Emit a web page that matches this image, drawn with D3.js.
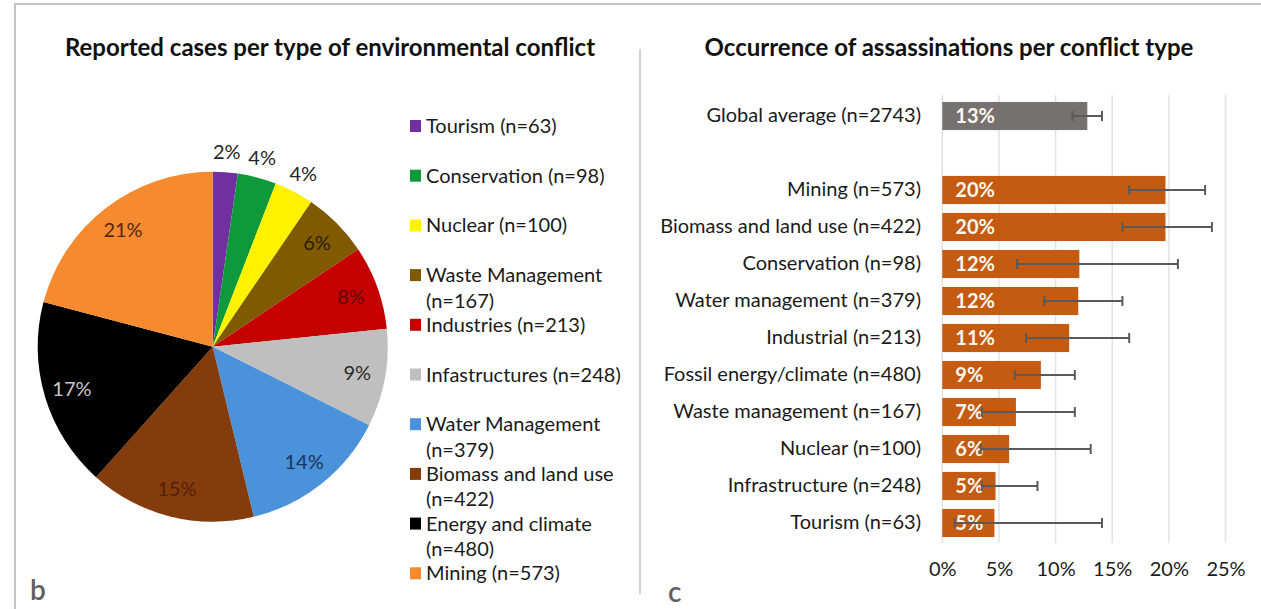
<!DOCTYPE html>
<html>
<head>
<meta charset="utf-8">
<script src="https://cdn.jsdelivr.net/npm/d3@7"></script>
<style>
  html, body { margin: 0; padding: 0; background: #fff; }
  svg { display: block; font-family: Lato, "Open Sans", sans-serif; }
</style>
</head>
<body>
<svg id="chart" width="1261" height="609"></svg>
<script>
// ---------- Data: pie (left panel) ----------
const pieCategories = ["Tourism", "Conservation", "Nuclear", "Waste Management", "Industries",
  "Infastructures", "Water Management", "Biomass and land use", "Energy and climate", "Mining"];
const pieCounts = [63, 98, 100, 167, 213, 248, 379, 422, 480, 573];
const pieColors = ["#7030A0", "#0E9A3A", "#FFF200", "#7F5A00", "#C40000",
  "#BFBFBF", "#4A92DA", "#843C0C", "#000000", "#F58A2E"];
const pieLabelColors = ["#262626", "#262626", "#262626", "#2a2000", "#5e0c06",
  "#2b2b2b", "#1c355e", "#561f06", "#c8c8c8", "#5a2610"];

// ---------- Data: bars (right panel) ----------
const barCategories = ["Global average (n=2743)", "Mining (n=573)", "Biomass and land use (n=422)",
  "Conservation (n=98)", "Water management (n=379)", "Industrial (n=213)",
  "Fossil energy/climate (n=480)", "Waste management (n=167)", "Nuclear (n=100)",
  "Infrastructure (n=248)", "Tourism (n=63)"];
const barValues = [12.8, 19.7, 19.7, 12.1, 12.0, 11.2, 8.7, 6.5, 5.9, 4.7, 4.6];
const errLow  = [11.5, 16.5, 15.9, 6.6, 9.0, 7.4, 6.4, 3.5, 3.4, 3.5, 1.1];
const errHigh = [14.1, 23.2, 23.8, 20.8, 15.9, 16.5, 11.7, 11.7, 13.1, 8.4, 14.1];
const xTicks = [0, 5, 10, 15, 20, 25];

const titles = ["Reported cases per type of environmental conflict",
  "Occurrence of assassinations per conflict type"];

const FS = 20;
const svg = d3.select("#chart");

// Frame and divider
svg.append("path").attr("d", "M15,620 L15,4 L1270,4")
  .attr("fill", "none").attr("stroke", "#c4c4c4").attr("stroke-width", 2);
svg.append("line").attr("x1", 640).attr("x2", 640).attr("y1", 49).attr("y2", 594)
  .attr("stroke", "#d2d2d2").attr("stroke-width", 2);

// Titles
svg.append("text").attr("x", 330).attr("y", 56).attr("text-anchor", "middle")
  .attr("font-size", 24).attr("font-weight", "bold").attr("fill", "#111").text(titles[0]);
svg.append("text").attr("x", 949).attr("y", 56).attr("text-anchor", "middle")
  .attr("font-size", 24).attr("font-weight", "bold").attr("fill", "#111").text(titles[1]);

// Panel letters
svg.append("text").attr("x", 30).attr("y", 600).attr("font-size", 28).attr("font-weight", 600)
  .attr("fill", "#5f5f5f").text("b");
svg.append("text").attr("x", 668).attr("y", 602).attr("font-size", 28).attr("font-weight", 600)
  .attr("fill", "#5f5f5f").text("c");

// ---------- Pie ----------
const cx = 212.7, cy = 346.7, R = 175;
const total = d3.sum(pieCounts);
const pie = d3.pie().sort(null).value(d => d)(pieCounts);
const arc = d3.arc().innerRadius(0).outerRadius(R);
const gPie = svg.append("g").attr("transform", `translate(${cx},${cy})`);
gPie.selectAll("path").data(pie).join("path")
  .attr("d", arc).attr("fill", (d, i) => pieColors[i]);

const inArc = d3.arc().innerRadius(147).outerRadius(147);
const outArc = d3.arc().innerRadius(195).outerRadius(195);
gPie.selectAll("text").data(pie).join("text")
  .attr("transform", d => {
    const frac = d.value / total;
    const c = (frac < 0.05 ? outArc : inArc).centroid(d);
    return `translate(${c[0]},${c[1]})`;
  })
  .attr("text-anchor", "middle").attr("dy", "0.35em")
  .attr("font-size", FS)
  .attr("fill", (d, i) => pieLabelColors[i])
  .text(d => Math.round(d.value / total * 100) + "%");

// Legend
const gLeg = svg.append("g");
const legX = 410, legY0 = 126, legStep = 49.7, maxW = 210;
pieCategories.forEach((name, i) => {
  const y = legY0 + i * legStep;
  gLeg.append("rect").attr("x", legX).attr("y", y - 6).attr("width", 11).attr("height", 12)
    .attr("fill", pieColors[i]);
  const full = `${name} (n=${pieCounts[i]})`;
  const t = gLeg.append("text").attr("x", legX + 16).attr("y", y).attr("dy", "0.35em")
    .attr("font-size", FS).attr("fill", "#1a1a1a").text(full);
  if (t.node().getComputedTextLength() > maxW) {
    t.text(name);
    gLeg.append("text").attr("x", legX + 16).attr("y", y + 25.5).attr("dy", "0.35em")
      .attr("font-size", FS).attr("fill", "#1a1a1a").text(`(n=${pieCounts[i]})`);
  }
});

// ---------- Bars ----------
const yDomain = [barCategories[0], "__gap__", ...barCategories.slice(1)];
const y = d3.scaleBand().domain(yDomain).range([97.5, 541.5]).paddingInner(0.24).paddingOuter(0.12);
const x = d3.scaleLinear().domain([0, 25]).range([942.3, 1225.5]);

const gGrid = svg.append("g");
gGrid.selectAll("line").data(xTicks).join("line")
  .attr("x1", d => x(d)).attr("x2", d => x(d)).attr("y1", 95).attr("y2", 543)
  .attr("stroke", "#e2e2e2").attr("stroke-width", 1.5);

const xAxis = svg.append("g").attr("transform", "translate(0,543)")
  .call(d3.axisBottom(x).tickValues(xTicks).tickSize(0).tickPadding(19).tickFormat(d => d + "%"));
xAxis.select(".domain").remove();
xAxis.selectAll("text").attr("font-size", FS).attr("fill", "#1a1a1a")
  .attr("font-family", "Lato, 'Open Sans', sans-serif");

const yAxis = svg.append("g").attr("transform", "translate(921,0)")
  .call(d3.axisLeft(y).tickSize(0).tickPadding(0).tickFormat(d => d === "__gap__" ? "" : d));
yAxis.select(".domain").remove();
yAxis.selectAll("text").attr("font-size", FS).attr("fill", "#1a1a1a")
  .attr("font-family", "Lato, 'Open Sans', sans-serif");

const bars = barCategories.map((c, i) => ({ c, v: barValues[i], lo: errLow[i], hi: errHigh[i], i }));
const gBars = svg.append("g");
gBars.selectAll("rect").data(bars).join("rect")
  .attr("x", x(0)).attr("y", d => y(d.c))
  .attr("width", d => x(d.v) - x(0)).attr("height", y.bandwidth())
  .attr("fill", d => d.i === 0 ? "#767171" : "#C55A11");

gBars.selectAll("text.val").data(bars).join("text").attr("class", "val")
  .attr("x", x(0) + 13).attr("y", d => y(d.c) + y.bandwidth() / 2).attr("dy", "0.36em")
  .attr("font-size", FS).attr("font-weight", "bold").attr("fill", "#fff6ee")
  .text(d => Math.round(d.v) + "%");

const gErr = svg.append("g").attr("stroke", "#5a5a5a").attr("stroke-width", 2);
bars.forEach(d => {
  const cyb = y(d.c) + y.bandwidth() / 2;
  gErr.append("line").attr("x1", x(d.lo)).attr("x2", x(d.hi)).attr("y1", cyb).attr("y2", cyb);
  gErr.append("line").attr("x1", x(d.lo)).attr("x2", x(d.lo)).attr("y1", cyb - 5).attr("y2", cyb + 5);
  gErr.append("line").attr("x1", x(d.hi)).attr("x2", x(d.hi)).attr("y1", cyb - 5).attr("y2", cyb + 5);
});
</script>
</body>
</html>
